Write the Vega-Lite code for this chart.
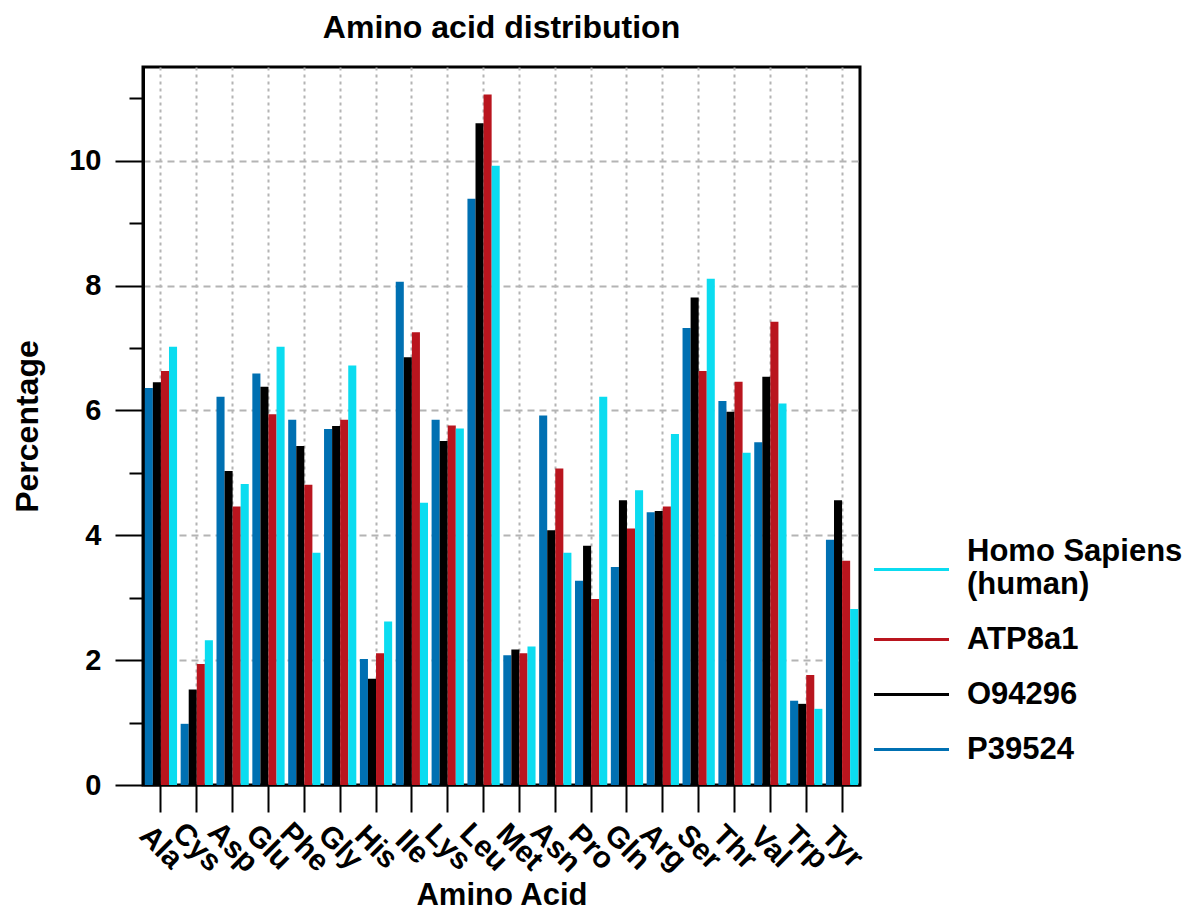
{
  "$schema": "https://vega.github.io/schema/vega-lite/v6.json",
  "autosize": "none",
  "width": 717,
  "height": 718,
  "padding": {"left": 143, "top": 67, "right": 332, "bottom": 126},
  "background": "white",
  "title": {
    "text": "Amino acid distribution",
    "font": "Liberation Sans",
    "fontSize": 32,
    "fontWeight": "bold",
    "color": "black",
    "anchor": "middle",
    "offset": 22
  },
  "data": {
    "values": [
      {"aa": "Ala", "series": "P39524", "value": 6.36},
      {"aa": "Ala", "series": "O94296", "value": 6.45},
      {"aa": "Ala", "series": "ATP8a1", "value": 6.63},
      {"aa": "Ala", "series": "Homo Sapiens (human)", "value": 7.02},
      {"aa": "Cys", "series": "P39524", "value": 0.98},
      {"aa": "Cys", "series": "O94296", "value": 1.53},
      {"aa": "Cys", "series": "ATP8a1", "value": 1.94},
      {"aa": "Cys", "series": "Homo Sapiens (human)", "value": 2.32},
      {"aa": "Asp", "series": "P39524", "value": 6.22},
      {"aa": "Asp", "series": "O94296", "value": 5.03},
      {"aa": "Asp", "series": "ATP8a1", "value": 4.46},
      {"aa": "Asp", "series": "Homo Sapiens (human)", "value": 4.82},
      {"aa": "Glu", "series": "P39524", "value": 6.59},
      {"aa": "Glu", "series": "O94296", "value": 6.38},
      {"aa": "Glu", "series": "ATP8a1", "value": 5.94},
      {"aa": "Glu", "series": "Homo Sapiens (human)", "value": 7.02},
      {"aa": "Phe", "series": "P39524", "value": 5.85},
      {"aa": "Phe", "series": "O94296", "value": 5.43},
      {"aa": "Phe", "series": "ATP8a1", "value": 4.81},
      {"aa": "Phe", "series": "Homo Sapiens (human)", "value": 3.72},
      {"aa": "Gly", "series": "P39524", "value": 5.70},
      {"aa": "Gly", "series": "O94296", "value": 5.75},
      {"aa": "Gly", "series": "ATP8a1", "value": 5.85},
      {"aa": "Gly", "series": "Homo Sapiens (human)", "value": 6.72},
      {"aa": "His", "series": "P39524", "value": 2.02},
      {"aa": "His", "series": "O94296", "value": 1.70},
      {"aa": "His", "series": "ATP8a1", "value": 2.11},
      {"aa": "His", "series": "Homo Sapiens (human)", "value": 2.62},
      {"aa": "Ile", "series": "P39524", "value": 8.06},
      {"aa": "Ile", "series": "O94296", "value": 6.85},
      {"aa": "Ile", "series": "ATP8a1", "value": 7.25},
      {"aa": "Ile", "series": "Homo Sapiens (human)", "value": 4.52},
      {"aa": "Lys", "series": "P39524", "value": 5.85},
      {"aa": "Lys", "series": "O94296", "value": 5.51},
      {"aa": "Lys", "series": "ATP8a1", "value": 5.76},
      {"aa": "Lys", "series": "Homo Sapiens (human)", "value": 5.71},
      {"aa": "Leu", "series": "P39524", "value": 9.39},
      {"aa": "Leu", "series": "O94296", "value": 10.60},
      {"aa": "Leu", "series": "ATP8a1", "value": 11.06},
      {"aa": "Leu", "series": "Homo Sapiens (human)", "value": 9.92},
      {"aa": "Met", "series": "P39524", "value": 2.08},
      {"aa": "Met", "series": "O94296", "value": 2.17},
      {"aa": "Met", "series": "ATP8a1", "value": 2.11},
      {"aa": "Met", "series": "Homo Sapiens (human)", "value": 2.22},
      {"aa": "Asn", "series": "P39524", "value": 5.92},
      {"aa": "Asn", "series": "O94296", "value": 4.08},
      {"aa": "Asn", "series": "ATP8a1", "value": 5.07},
      {"aa": "Asn", "series": "Homo Sapiens (human)", "value": 3.72},
      {"aa": "Pro", "series": "P39524", "value": 3.27},
      {"aa": "Pro", "series": "O94296", "value": 3.83},
      {"aa": "Pro", "series": "ATP8a1", "value": 2.98},
      {"aa": "Pro", "series": "Homo Sapiens (human)", "value": 6.22},
      {"aa": "Gln", "series": "P39524", "value": 3.49},
      {"aa": "Gln", "series": "O94296", "value": 4.56},
      {"aa": "Gln", "series": "ATP8a1", "value": 4.11},
      {"aa": "Gln", "series": "Homo Sapiens (human)", "value": 4.72},
      {"aa": "Arg", "series": "P39524", "value": 4.37},
      {"aa": "Arg", "series": "O94296", "value": 4.39},
      {"aa": "Arg", "series": "ATP8a1", "value": 4.46},
      {"aa": "Arg", "series": "Homo Sapiens (human)", "value": 5.62},
      {"aa": "Ser", "series": "P39524", "value": 7.32},
      {"aa": "Ser", "series": "O94296", "value": 7.81},
      {"aa": "Ser", "series": "ATP8a1", "value": 6.63},
      {"aa": "Ser", "series": "Homo Sapiens (human)", "value": 8.11},
      {"aa": "Thr", "series": "P39524", "value": 6.15},
      {"aa": "Thr", "series": "O94296", "value": 5.98},
      {"aa": "Thr", "series": "ATP8a1", "value": 6.46},
      {"aa": "Thr", "series": "Homo Sapiens (human)", "value": 5.32},
      {"aa": "Val", "series": "P39524", "value": 5.49},
      {"aa": "Val", "series": "O94296", "value": 6.54},
      {"aa": "Val", "series": "ATP8a1", "value": 7.42},
      {"aa": "Val", "series": "Homo Sapiens (human)", "value": 6.11},
      {"aa": "Trp", "series": "P39524", "value": 1.35},
      {"aa": "Trp", "series": "O94296", "value": 1.30},
      {"aa": "Trp", "series": "ATP8a1", "value": 1.76},
      {"aa": "Trp", "series": "Homo Sapiens (human)", "value": 1.22},
      {"aa": "Tyr", "series": "P39524", "value": 3.93},
      {"aa": "Tyr", "series": "O94296", "value": 4.56},
      {"aa": "Tyr", "series": "ATP8a1", "value": 3.59},
      {"aa": "Tyr", "series": "Homo Sapiens (human)", "value": 2.82}
    ]
  },
  "mark": {"type": "bar", "strokeWidth": 0},
  "encoding": {
    "x": {
      "field": "aa",
      "type": "nominal",
      "sort": null,
      "scale": {"paddingInner": 0.1, "paddingOuter": 0.05},
      "axis": {
        "title": "Amino Acid",
        "titleFont": "Liberation Sans",
        "titleFontSize": 31,
        "titleFontWeight": "bold",
        "titleColor": "black",
        "titlePadding": 3,
        "labelFont": "Liberation Sans",
        "labelFontSize": 30,
        "labelFontWeight": "bold",
        "labelColor": "black",
        "labelAngle": 45,
        "labelAlign": "center",
        "labelBaseline": "middle",
        "labelPadding": 35,
        "labelOverlap": false,
        "labelBound": false,
        "tickSize": 27,
        "tickWidth": 2,
        "tickColor": "black",
        "domainColor": "black",
        "domainWidth": 2,
        "grid": true,
        "gridColor": "#b4b4b4",
        "gridWidth": 2,
        "gridDash": [3, 4]
      }
    },
    "xOffset": {
      "field": "series",
      "type": "nominal",
      "sort": ["P39524", "O94296", "ATP8a1", "Homo Sapiens (human)"],
      "scale": {"paddingInner": 0, "paddingOuter": 0}
    },
    "y": {
      "field": "value",
      "type": "quantitative",
      "scale": {"domain": [0, 11.5], "nice": false, "zero": true},
      "axis": {
        "title": "Percentage",
        "titleFont": "Liberation Sans",
        "titleFontSize": 32,
        "titleFontWeight": "bold",
        "titleColor": "black",
        "titlePadding": 24,
        "format": "d",
        "values": [0, 0.5, 1, 1.5, 2, 2.5, 3, 3.5, 4, 4.5, 5, 5.5, 6, 6.5, 7, 7.5, 8, 8.5, 9, 9.5, 10, 10.5, 11],
        "labelExpr": "datum.value % 2 === 0 ? datum.label : ''",
        "labelFont": "Liberation Sans",
        "labelFontSize": 29,
        "labelFontWeight": "bold",
        "labelColor": "black",
        "labelPadding": 14,
        "tickSize": {"condition": {"test": "datum.value % 2 === 0", "value": 28}, "value": 14},
        "tickWidth": 2,
        "tickColor": "black",
        "domainColor": "black",
        "domainWidth": 3,
        "grid": true,
        "gridColor": "#b4b4b4",
        "gridWidth": 2,
        "gridDash": [7, 5],
        "gridOpacity": {"condition": {"test": "datum.value % 2 === 0 && datum.value > 0", "value": 1}, "value": 0}
      }
    },
    "color": {
      "field": "series",
      "type": "nominal",
      "scale": {
        "domain": ["Homo Sapiens (human)", "ATP8a1", "O94296", "P39524"],
        "range": ["#0bdcf0", "#b9151e", "#000000", "#0070b2"]
      },
      "legend": {
        "title": null,
        "orient": "none",
        "legendX": 752,
        "legendY": 486,
        "gridAlign": "none",
        "symbolType": "M-2.5,0H2.5",
        "symbolSize": 900,
        "symbolStrokeWidth": 3,
        "labelFont": "Liberation Sans",
        "labelFontSize": 31,
        "labelFontWeight": "bold",
        "labelColor": "black",
        "labelOffset": 39,
        "labelLimit": 400,
        "rowPadding": 23,
        "labelExpr": "datum.label === 'Homo Sapiens (human)' ? ['Homo Sapiens', '(human)'] : datum.label",
        "encode": {
          "symbols": {
            "update": {
              "stroke": {"scale": "color", "field": "value"},
              "strokeWidth": {"value": 3}
            }
          },
          "labels": {
            "update": {
              "dy": {"signal": "datum.value === 'Homo Sapiens (human)' ? -18 : 0"}
            }
          }
        }
      }
    }
  },
  "config": {
    "view": {"stroke": "black", "strokeWidth": 3}
  }
}
